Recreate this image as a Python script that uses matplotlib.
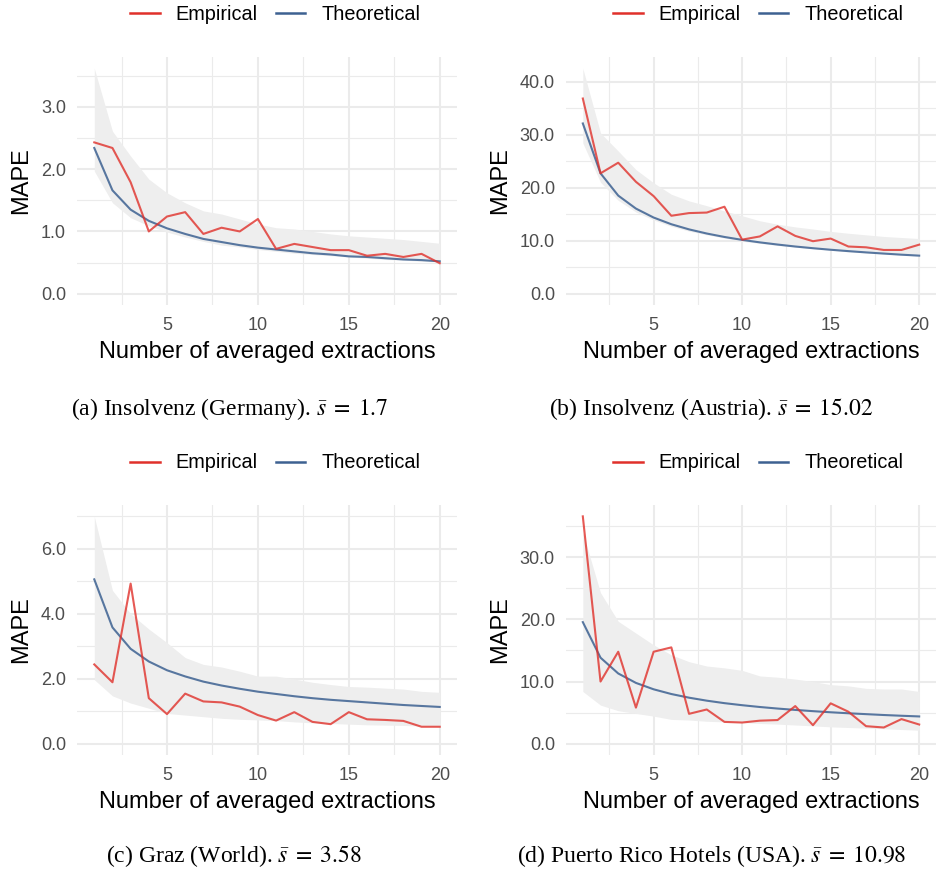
import matplotlib
matplotlib.use('Agg')
import matplotlib.pyplot as plt
from matplotlib.lines import Line2D
from matplotlib.ticker import MultipleLocator, FormatStrFormatter

plt.rcParams['font.family'] = ['Liberation Sans', 'DejaVu Sans']
plt.rcParams['mathtext.fontset'] = 'stix'

# number of averaged extractions
n_extr = list(range(1, 21))

# (a) Insolvenz (Germany)
a_emp = [2.43, 2.34, 1.79, 1.00, 1.24, 1.31, 0.96, 1.06, 1.00, 1.20, 0.72, 0.80, 0.75, 0.70, 0.70, 0.61, 0.64, 0.59, 0.64, 0.49]
a_theo = [2.34, 1.66, 1.35, 1.17, 1.05, 0.96, 0.88, 0.83, 0.78, 0.74, 0.71, 0.68, 0.65, 0.63, 0.60, 0.59, 0.57, 0.55, 0.54, 0.52]
a_hi = [3.62, 2.61, 2.21, 1.84, 1.62, 1.46, 1.33, 1.28, 1.20, 1.12, 1.06, 1.04, 1.00, 0.96, 0.93, 0.91, 0.89, 0.87, 0.84, 0.81]
a_lo = [1.97, 1.46, 1.22, 1.09, 0.99, 0.91, 0.84, 0.78, 0.75, 0.71, 0.68, 0.65, 0.63, 0.61, 0.59, 0.57, 0.55, 0.54, 0.52, 0.51]

# (b) Insolvenz (Austria)
b_emp = [36.8, 22.7, 24.7, 21.1, 18.4, 14.7, 15.2, 15.3, 16.4, 10.2, 10.8, 12.7, 10.9, 9.9, 10.4, 8.9, 8.75, 8.25, 8.25, 9.25]
b_theo = [32.1, 22.7, 18.5, 16.05, 14.36, 13.1, 12.13, 11.35, 10.7, 10.15, 9.68, 9.27, 8.9, 8.58, 8.29, 8.03, 7.79, 7.57, 7.36, 7.18]
b_hi = [42.5, 30.3, 26.9, 23.4, 20.9, 18.75, 17.5, 16.6, 15.6, 14.7, 13.75, 13.1, 12.6, 12.2, 11.75, 11.4, 11.1, 10.8, 10.6, 10.4]
b_lo = [28.4, 21.0, 17.6, 15.4, 13.9, 12.7, 11.8, 11.1, 10.5, 9.9, 9.5, 9.1, 8.8, 8.5, 8.2, 7.9, 7.7, 7.5, 7.3, 7.1]

# (c) Graz (World)
c_emp = [2.44, 1.89, 4.93, 1.40, 0.91, 1.54, 1.30, 1.27, 1.14, 0.88, 0.71, 0.97, 0.67, 0.60, 0.97, 0.75, 0.73, 0.70, 0.52, 0.52]
c_theo = [5.06, 3.58, 2.92, 2.53, 2.26, 2.07, 1.91, 1.79, 1.69, 1.60, 1.53, 1.46, 1.40, 1.35, 1.31, 1.27, 1.23, 1.19, 1.16, 1.13]
c_hi = [7.0, 4.72, 4.0, 3.53, 3.11, 2.65, 2.44, 2.36, 2.23, 2.08, 2.08, 1.99, 1.89, 1.82, 1.76, 1.74, 1.71, 1.68, 1.61, 1.58]
c_lo = [1.97, 1.47, 1.25, 1.09, 0.93, 0.88, 0.83, 0.78, 0.75, 0.73, 0.71, 0.67, 0.64, 0.62, 0.60, 0.58, 0.57, 0.56, 0.54, 0.52]

# (d) Puerto Rico Hotels (USA)
d_emp = [36.6, 10.0, 14.8, 5.8, 14.8, 15.5, 4.8, 5.5, 3.5, 3.4, 3.7, 3.8, 6.05, 2.97, 6.49, 5.14, 2.81, 2.6, 3.95, 3.08]
d_theo = [19.57, 13.84, 11.3, 9.78, 8.75, 7.99, 7.40, 6.92, 6.52, 6.19, 5.90, 5.65, 5.43, 5.23, 5.05, 4.89, 4.75, 4.61, 4.49, 4.38]
d_hi = [34.0, 24.3, 19.7, 17.8, 15.9, 14.3, 13.2, 12.5, 12.2, 11.8, 10.9, 10.7, 10.4, 10.0, 9.5, 9.3, 8.9, 8.8, 8.8, 8.4]
d_lo = [8.4, 6.2, 5.3, 4.86, 4.43, 3.9, 3.8, 3.6, 3.5, 3.4, 3.24, 3.14, 3.0, 2.86, 2.7, 2.6, 2.5, 2.4, 2.27, 2.16]

captions = [r'(a) Insolvenz (Germany). $\bar{s}\;=\;1.7$',
            r'(b) Insolvenz (Austria). $\bar{s}\;=\;15.02$',
            r'(c) Graz (World). $\bar{s}\;=\;3.58$',
            r'(d) Puerto Rico Hotels (USA). $\bar{s}\;=\;10.98$']

RED = '#E0302A'
BLUE = '#3D6191'
GRID = '#EBEBEB'

W, H = 936, 874
fig = plt.figure(figsize=(W / 100, H / 100), dpi=100)


def px_axes(left, top, right, bottom):
    # pixel box -> figure fraction
    return fig.add_axes([left / W, 1 - bottom / H, (right - left) / W, (bottom - top) / H])


def draw_panel(ax, emp, theo, lo, hi, ymajor):
    ax.fill_between(n_extr, lo, hi, color='#EEEEEE', lw=0, zorder=1)
    ax.plot(n_extr, theo, color=BLUE, lw=1.5, alpha=0.85, zorder=3)
    ax.plot(n_extr, emp, color=RED, lw=1.5, alpha=0.8, zorder=4)

    top = max(max(hi), max(emp))
    ax.set_ylim(-0.05 * top, 1.05 * top)
    ax.set_xlim(1 - 0.05 * 19, 20 + 0.05 * 19)

    ax.xaxis.set_major_locator(MultipleLocator(5))
    ax.xaxis.set_minor_locator(MultipleLocator(2.5))
    ax.yaxis.set_major_locator(MultipleLocator(ymajor))
    ax.yaxis.set_minor_locator(MultipleLocator(ymajor / 2))
    ax.yaxis.set_major_formatter(FormatStrFormatter('%.1f'))

    ax.grid(which='major', color=GRID, lw=1.5, zorder=0)
    ax.grid(which='minor', color=GRID, lw=0.8, zorder=0)
    ax.set_axisbelow(True)
    for s in ax.spines.values():
        s.set_visible(False)
    ax.tick_params(which='both', length=0, labelsize=13, labelcolor='#4D4D4D')
    ax.tick_params(axis='x', pad=9)
    ax.tick_params(axis='y', pad=8)
    ax.set_xlabel('Number of averaged extractions', fontsize=17, labelpad=5)
    ax.set_ylabel('MAPE', fontsize=17, labelpad=6)


panels = [
    (px_axes(77, 57, 457, 305), a_emp, a_theo, a_lo, a_hi, 1.0),
    (px_axes(566, 57, 936, 305), b_emp, b_theo, b_lo, b_hi, 10.0),
    (px_axes(77, 505, 457, 755), c_emp, c_theo, c_lo, c_hi, 2.0),
    (px_axes(566, 505, 936, 755), d_emp, d_theo, d_lo, d_hi, 10.0),
]
for ax, emp, theo, lo, hi, ymaj in panels:
    draw_panel(ax, emp, theo, lo, hi, ymaj)

# legends on top of each panel
handles = [Line2D([], [], color=RED, lw=1.8), Line2D([], [], color=BLUE, lw=1.8)]
leg_pos = [(275, 14), (758, 14), (275, 463), (758, 463)]
for lx, ly in leg_pos:
    leg = fig.legend(handles, ['Empirical', 'Theoretical'], loc='center',
                     bbox_to_anchor=(lx / W, 1 - ly / H), ncol=2, frameon=False,
                     fontsize=14.3, handlelength=1.5, handletextpad=0.8,
                     columnspacing=0.9, borderpad=0)

# subfigure captions
cap_pos = [(230, 409), (711, 409), (234, 856), (712, 856)]
for (cx, cy), txt in zip(cap_pos, captions):
    fig.text(cx / W, 1 - cy / H, txt, ha='center', va='center',
             fontsize=17, family='Liberation Serif')

fig.savefig('out.png', dpi=100)
